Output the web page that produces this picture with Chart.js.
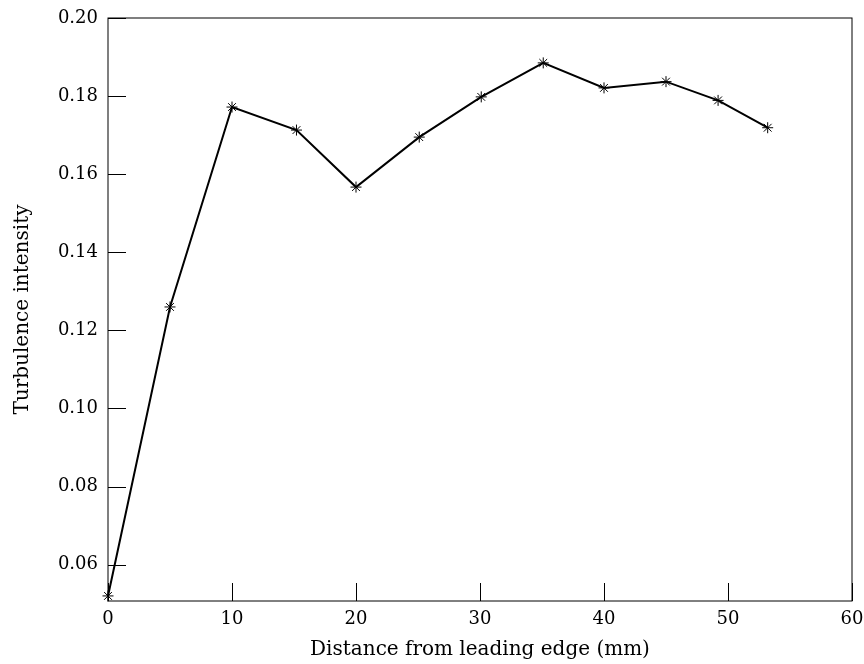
<!DOCTYPE html>
<html>
<head>
<meta charset="utf-8">
<script src="https://cdn.jsdelivr.net/npm/chart.js@4"></script>
<style>
  html, body { margin: 0; padding: 0; background: #fff; }
  #wrap { width: 864px; height: 664px; }
</style>
</head>
<body>
<div id="wrap"><canvas id="turb-chart" width="864" height="664"></canvas></div>
<script>
const distances = [0, 5, 10, 15.2, 20, 25.1, 30.1, 35.1, 40, 45, 49.2, 53.2];
const intensity = [0.052, 0.126, 0.1772, 0.1713, 0.1567, 0.1695, 0.1798, 0.1885, 0.1821, 0.1837, 0.1789, 0.1719];
const xTicks = [0, 10, 20, 30, 40, 50, 60];
const yTicks = [0.06, 0.08, 0.10, 0.12, 0.14, 0.16, 0.18, 0.20];

const FONT = 'DejaVu Serif';

// ticks drawn inward + full frame
const frameTicks = {
  id: 'frameTicks',
  afterDraw(chart) {
    const { ctx, chartArea: a, scales } = chart;
    ctx.save();
    ctx.strokeStyle = '#000';
    ctx.lineWidth = 1;
    ctx.strokeRect(a.left, a.top, a.right - a.left, a.bottom - a.top);
    ctx.beginPath();
    xTicks.forEach(v => {
      const px = Math.round(scales.x.getPixelForValue(v)) + 0.5;
      ctx.moveTo(px, a.bottom);
      ctx.lineTo(px, a.bottom - 18);
    });
    yTicks.forEach(v => {
      const py = Math.round(scales.y.getPixelForValue(v)) + 0.5;
      ctx.moveTo(a.left, py);
      ctx.lineTo(a.left + 18, py);
    });
    ctx.stroke();
    ctx.restore();
  }
};

new Chart(document.getElementById('turb-chart').getContext('2d'), {
  type: 'line',
  data: {
    datasets: [{
      data: distances.map((d, i) => ({ x: d, y: intensity[i] })),
      borderColor: '#000',
      borderWidth: 2,
      pointStyle: 'star',
      pointRadius: 5.5,
      pointBorderWidth: 1,
      pointBorderColor: '#000',
      pointBackgroundColor: '#000',
      tension: 0,
      fill: false,
      clip: false
    }]
  },
  options: {
    responsive: false,
    animation: false,
    layout: { padding: { top: 18, right: 12, left: 0, bottom: 0 } },
    plugins: { legend: { display: false }, tooltip: { enabled: false } },
    scales: {
      x: {
        type: 'linear',
        min: 0,
        max: 60,
        afterBuildTicks: s => { s.ticks = xTicks.map(v => ({ value: v })); },
        afterFit: s => { s.height = 63; s.paddingLeft = 0; s.paddingRight = 0; },
        grid: { display: false, drawTicks: false, tickLength: 0 },
        border: { display: false },
        ticks: {
          color: '#000',
          font: { family: FONT, size: 18 },
          padding: 8,
          maxRotation: 0,
          callback: v => String(v)
        },
        title: {
          display: true,
          text: 'Distance from leading edge (mm)',
          color: '#000',
          font: { family: FONT, size: 20 },
          padding: { top: 4, bottom: 2 }
        }
      },
      y: {
        type: 'linear',
        min: 0.0507,
        max: 0.20,
        afterBuildTicks: s => { s.ticks = yTicks.map(v => ({ value: v })); },
        afterFit: s => { s.width = 108; s.paddingTop = 0; s.paddingBottom = 0; },
        grid: { display: false, drawTicks: false, tickLength: 0 },
        border: { display: false },
        ticks: {
          color: '#000',
          font: { family: FONT, size: 18 },
          padding: 10,
          callback: v => v.toFixed(2)
        },
        title: {
          display: true,
          text: 'Turbulence intensity',
          color: '#000',
          font: { family: FONT, size: 20 },
          padding: { top: 11, bottom: 4 }
        }
      }
    }
  },
  plugins: [frameTicks]
});
</script>
</body>
</html>
